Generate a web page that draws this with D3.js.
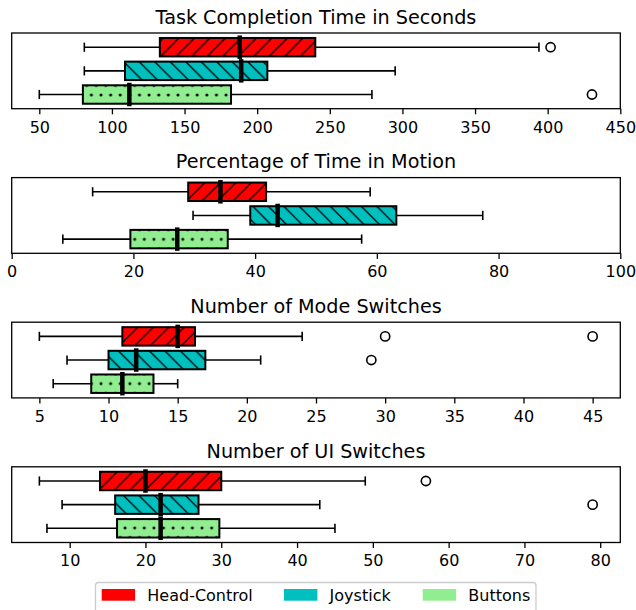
<!DOCTYPE html>
<html>
<head>
<meta charset="utf-8">
<script src="https://cdn.jsdelivr.net/npm/d3@7"></script>
<style>
body { margin: 0; background: white; }
text { font-family: "DejaVu Sans", sans-serif; fill: black; }
</style>
</head>
<body>
<svg></svg>
<script>
var screen = {width: 636, height: 610};
var margins = {left: 11.7, right: 15.7, top: 33, step: 144.6, height: 75.7};

// one entry per panel
var titles = ["Task Completion Time in Seconds", "Percentage of Time in Motion",
              "Number of Mode Switches", "Number of UI Switches"];
var domains = [[31, 450], [0, 100], [3, 47], [2.35, 82.65]];
var ticks = [[50, 100, 150, 200, 250, 300, 350, 400, 450],
             [0, 20, 40, 60, 80, 100],
             [5, 10, 15, 20, 25, 30, 35, 40, 45],
             [10, 20, 30, 40, 50, 60, 70, 80]];

var groups = ["Head-Control", "Joystick", "Buttons"];
var colors = ["#ff0000", "#00bfbf", "#90ee90"];
var hatches = ["fwd", "back", "dots"];

// [whisker low, q1, median, q3, whisker high]
var headStats = [[81, 133, 188, 240, 394], [13.3, 29.0, 34.3, 41.8, 58.9],
                 [5, 11, 15, 16.25, 24], [6, 14, 20, 30, 49]];
var joyStats = [[81, 109, 189, 207, 295], [29.8, 39.2, 43.7, 63.2, 77.4],
                [7, 10, 12, 17, 21], [9, 16, 22, 27, 43]];
var buttonStats = [[50, 80, 112, 182, 279], [8.4, 19.5, 27.2, 35.5, 57.5],
                   [6, 8.75, 11, 13.25, 15], [7, 16.25, 22, 29.75, 45]];

var headOutliers = [[402], [], [30, 45], [57]];
var joyOutliers = [[], [], [29], [79]];
var buttonOutliers = [[430.5], [], [], []];

var svg = d3.select("svg")
    .attr("width", screen.width)
    .attr("height", screen.height);

// hatch patterns
var defs = svg.append("defs");
var hs = 15.5;
var fwd = defs.append("pattern").attr("id", "fwd")
    .attr("patternUnits", "userSpaceOnUse")
    .attr("width", hs).attr("height", hs);
fwd.append("path")
    .attr("d", "M0," + hs + "L" + hs + ",0M-2,2L2,-2M" + (hs - 2) + "," + (hs + 2) + "L" + (hs + 2) + "," + (hs - 2))
    .attr("stroke", "black").attr("stroke-width", 1.3);
var back = defs.append("pattern").attr("id", "back")
    .attr("patternUnits", "userSpaceOnUse")
    .attr("width", hs).attr("height", hs);
back.append("path")
    .attr("d", "M0,0L" + hs + "," + hs + "M-2," + (hs - 2) + "L2," + (hs + 2) + "M" + (hs - 2) + ",-2L" + (hs + 2) + ",2")
    .attr("stroke", "black").attr("stroke-width", 1.3);
var ds = 9.62;
var dots = defs.append("pattern").attr("id", "dots")
    .attr("patternUnits", "userSpaceOnUse")
    .attr("width", ds).attr("height", 2 * ds)
    .attr("x", -ds / 2).attr("y", 3.6);
[[ds / 2, ds / 2], [0, 1.5 * ds], [ds, 1.5 * ds]].forEach(function(p)
{
    dots.append("circle").attr("cx", p[0]).attr("cy", p[1]).attr("r", 1.5).attr("fill", "black");
});

var width = screen.width - margins.left - margins.right;

var drawPanel = function(i)
{
    var top = margins.top + i * margins.step;
    var g = svg.append("g")
        .attr("transform", "translate(" + margins.left + "," + top + ")");

    var xScale = d3.scaleLinear()
        .domain(domains[i])
        .range([0, width]);
    var yScale = d3.scaleLinear()
        .domain([0.4, 3.6])
        .range([0, margins.height]);
    var boxH = yScale(0.78) - yScale(0);

    var rows = [
        {stats: headStats[i], out: headOutliers[i]},
        {stats: joyStats[i], out: joyOutliers[i]},
        {stats: buttonStats[i], out: buttonOutliers[i]}
    ];

    rows.forEach(function(r, k)
    {
        var cy = yScale(k + 1);
        var s = r.stats;
        var capH = boxH / 2;
        // whiskers
        g.append("line")
            .attr("x1", xScale(s[0])).attr("x2", xScale(s[1]))
            .attr("y1", cy).attr("y2", cy)
            .attr("stroke", "black").attr("stroke-width", 1.6);
        g.append("line")
            .attr("x1", xScale(s[3])).attr("x2", xScale(s[4]))
            .attr("y1", cy).attr("y2", cy)
            .attr("stroke", "black").attr("stroke-width", 1.6);
        [s[0], s[4]].forEach(function(v)
        {
            g.append("line")
                .attr("x1", xScale(v)).attr("x2", xScale(v))
                .attr("y1", cy - capH / 2).attr("y2", cy + capH / 2)
                .attr("stroke", "black").attr("stroke-width", 1.6);
        });
        // box, hatch drawn in page coordinates so patterns line up
        g.append("rect")
            .attr("x", xScale(s[1])).attr("y", cy - boxH / 2)
            .attr("width", xScale(s[3]) - xScale(s[1])).attr("height", boxH)
            .attr("fill", colors[k]);
        g.append("rect")
            .attr("transform", "translate(" + (-margins.left) + "," + (-top) + ")")
            .attr("x", xScale(s[1]) + margins.left).attr("y", cy - boxH / 2 + top)
            .attr("width", xScale(s[3]) - xScale(s[1])).attr("height", boxH)
            .attr("fill", "url(#" + hatches[k] + ")")
            .attr("stroke", "black").attr("stroke-width", 2);
        // median
        g.append("line")
            .attr("x1", xScale(s[2])).attr("x2", xScale(s[2]))
            .attr("y1", cy - boxH / 2 - 2.5).attr("y2", cy + boxH / 2 + 2.5)
            .attr("stroke", "black").attr("stroke-width", 4.5);
        // outliers
        g.selectAll(null)
            .data(r.out)
            .enter()
            .append("circle")
            .attr("cx", function(d) { return xScale(d); })
            .attr("cy", cy)
            .attr("r", 4.6)
            .attr("fill", "none")
            .attr("stroke", "black").attr("stroke-width", 1.6);
    });

    // frame
    g.append("rect")
        .attr("width", width).attr("height", margins.height)
        .attr("fill", "none").attr("stroke", "black").attr("stroke-width", 1.3);

    var xAxis = d3.axisBottom(xScale)
        .tickValues(ticks[i])
        .tickSize(5.6)
        .tickPadding(7)
        .tickFormat(d3.format("d"));
    var ax = g.append("g")
        .attr("transform", "translate(0," + margins.height + ")")
        .call(xAxis);
    ax.select(".domain").remove();
    ax.selectAll("line").attr("stroke", "black").attr("stroke-width", 1.3);
    ax.selectAll("text")
        .attr("font-size", "16px")
        .attr("font-family", "DejaVu Sans");

    g.append("text")
        .attr("x", width / 2)
        .attr("y", -9.3)
        .attr("text-anchor", "middle")
        .attr("font-size", "19.2px")
        .text(titles[i]);
}

for (var i = 0; i < 4; i++)
{
    drawPanel(i);
}

// legend
var legend = svg.append("g");
legend.append("rect")
    .attr("x", 95.5).attr("y", 582.5)
    .attr("width", 440.5).attr("height", 40)
    .attr("rx", 3)
    .attr("fill", "white")
    .attr("stroke", "#cccccc").attr("stroke-width", 1.3);
var legendX = [101.7, 284, 422.7];
groups.forEach(function(name, k)
{
    legend.append("rect")
        .attr("x", legendX[k]).attr("y", 589)
        .attr("width", 33.4).attr("height", 11.7)
        .attr("fill", colors[k]);
    legend.append("text")
        .attr("x", legendX[k] + 45.6)
        .attr("y", 600.7)
        .attr("font-size", "16px")
        .text(name);
});
</script>
</body>
</html>
